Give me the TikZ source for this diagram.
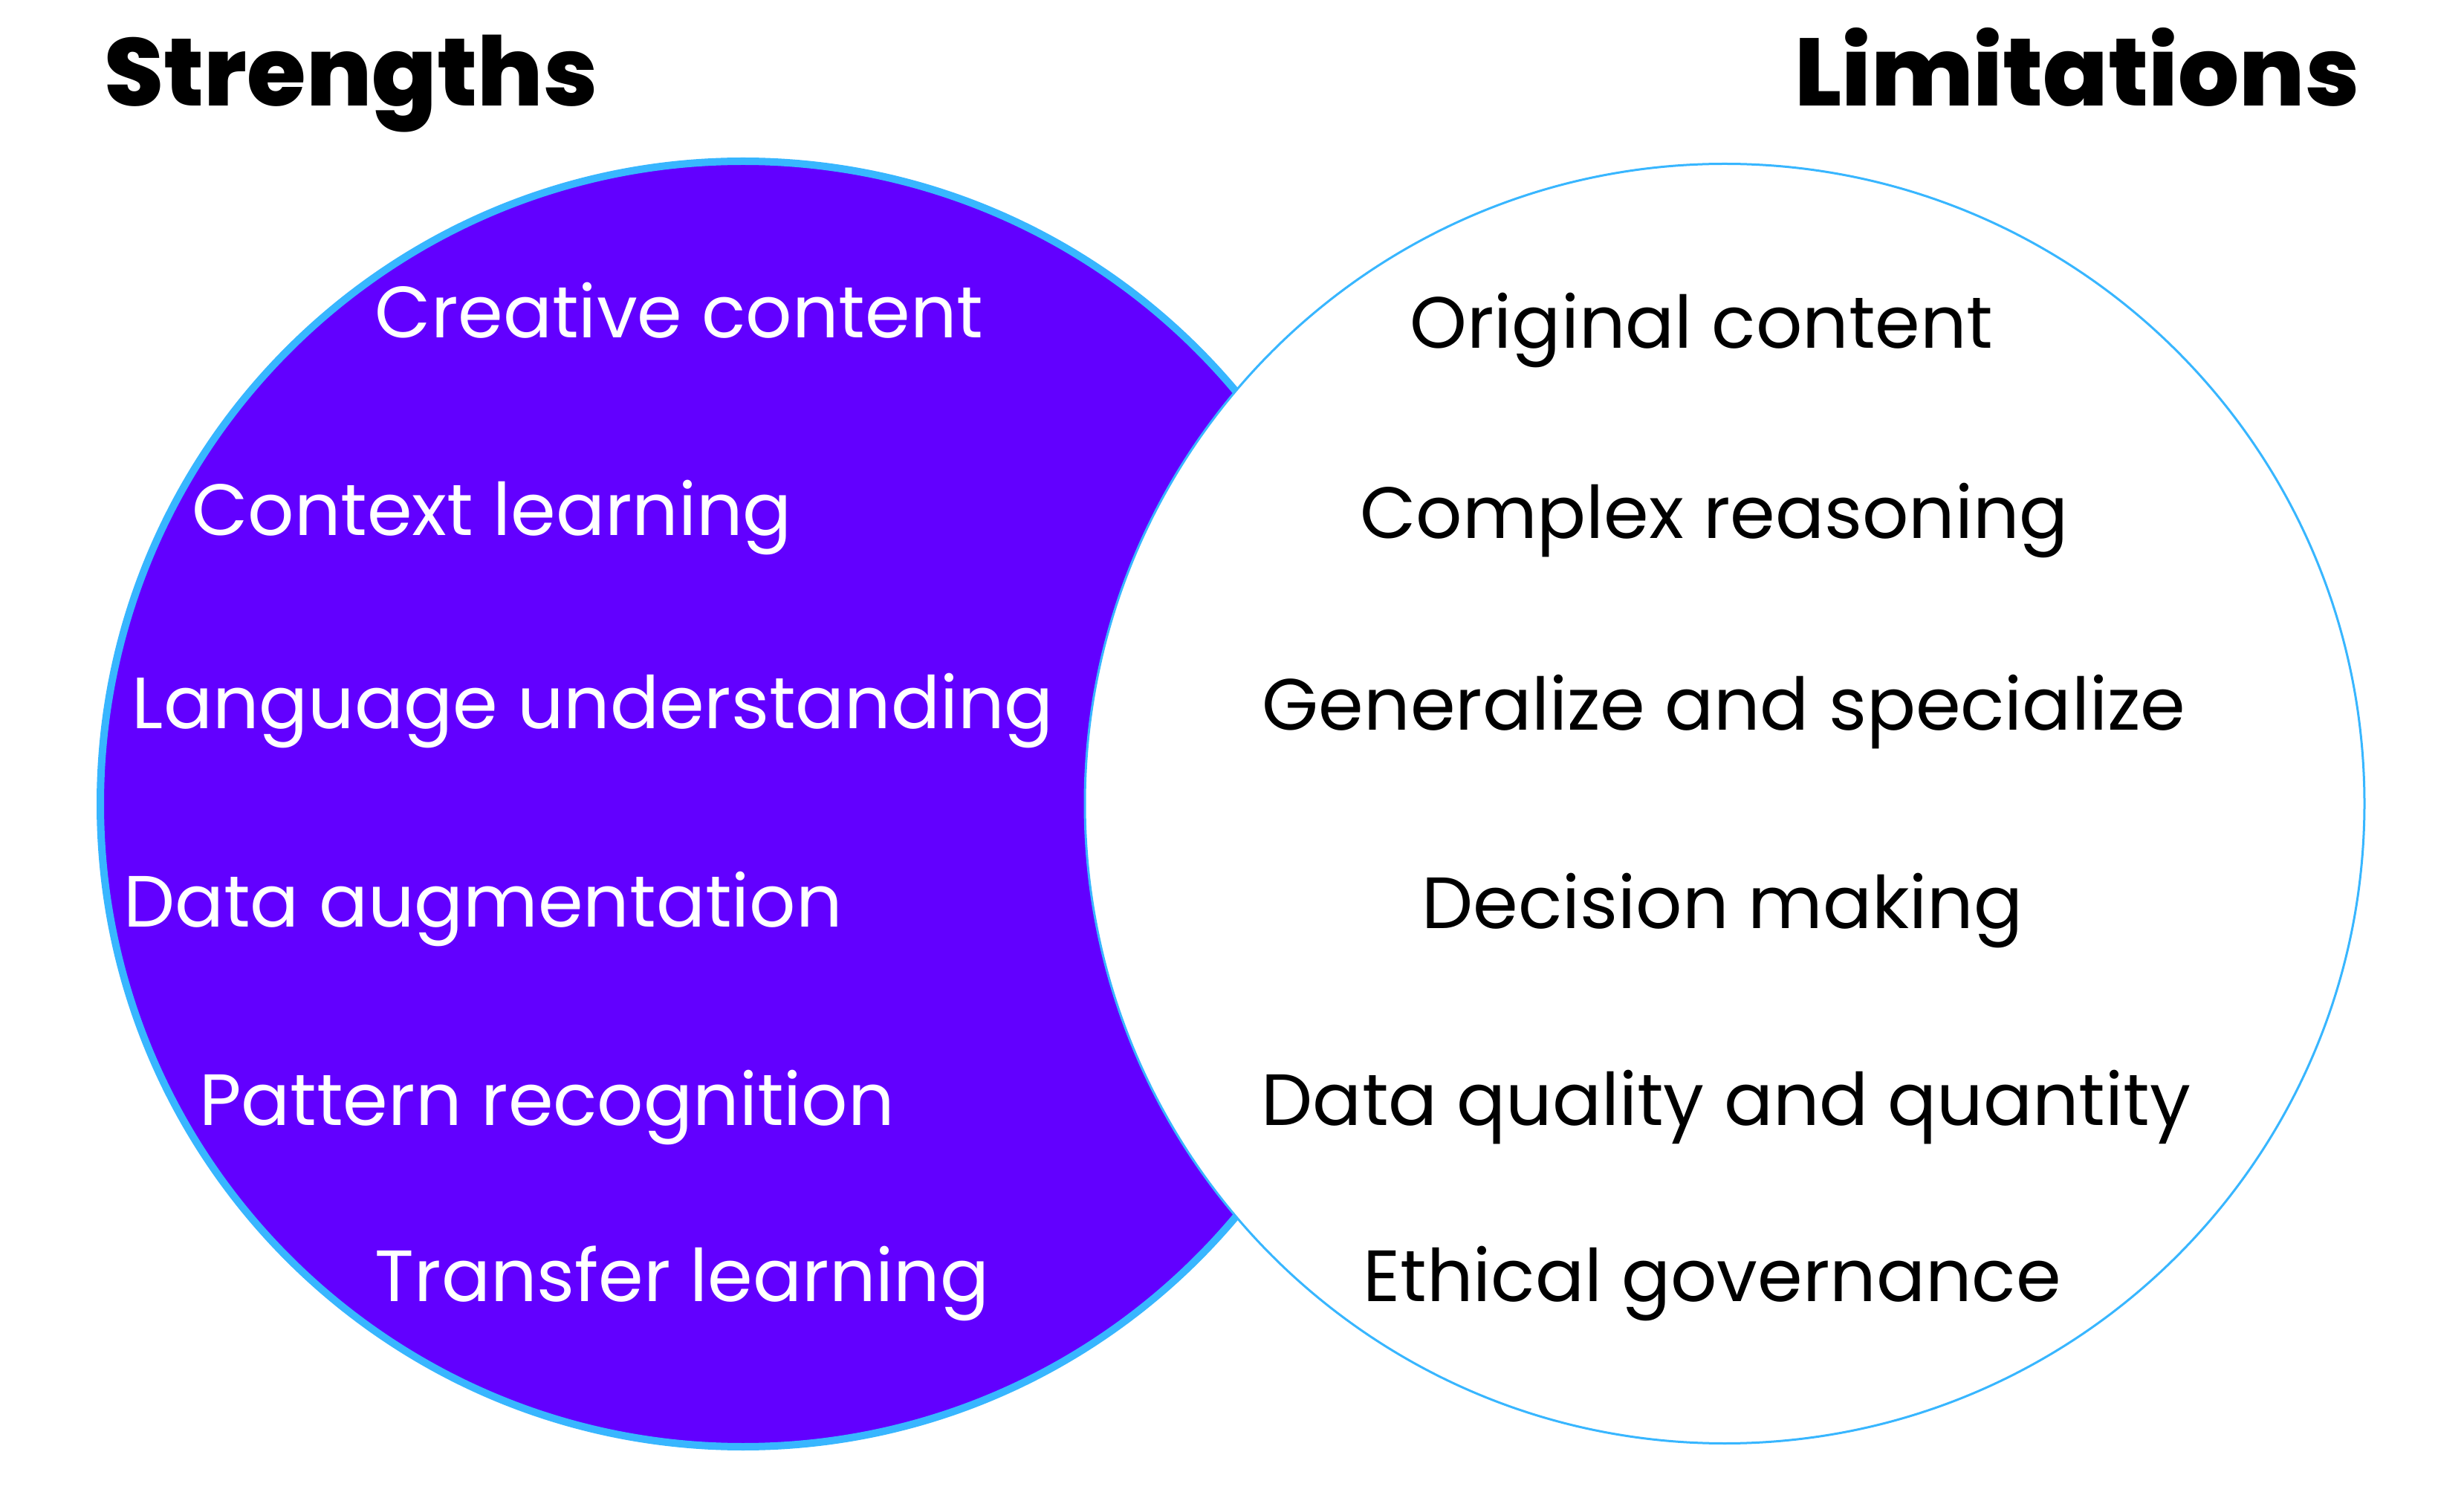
\documentclass[tikz,border=0pt]{standalone}
\usepackage{fontspec}
\setmainfont{Poppins}
\newfontfamily\titlefont{Poppins ExtraBold}
\usepackage{tikz}
\usetikzlibrary{positioning, calc}

\definecolor{violeta}{HTML}{6200FF}
\definecolor{celeste}{HTML}{38B6FF}

\begin{document}
\begin{tikzpicture}[
    every path/.style={thin}
]
    \tikzset{
        titulo/.style={font=\titlefont\fontsize{36.7}{42}\selectfont, text=black, inner sep=0pt},
        fuerte/.style={font=\fontsize{27.8}{32}\selectfont, text=white, anchor=base, inner sep=0pt},
        debil/.style={font=\fontsize{27.8}{32}\selectfont, text=black, anchor=base, inner sep=0pt}
    }
    \useasboundingbox (0,0) rectangle (33.16,-20.16);

    % Circulos
    \draw[violeta, fill=violeta, draw=celeste, line width=0.1cm] (10.00,-10.82) circle (8.65);
    \draw[fill=white, draw=celeste, line width=0.03cm] (23.21,-10.815) circle (8.61);

    % Titulos
    \node[titulo, anchor=base west] (fuertes) at (1.40,-1.43) {Strengths};
    \node[titulo, anchor=base east] (limites) at (31.76,-1.43) {Limitations};

    % Fortalezas
    \node[fuerte] (creativo) at (9.14,-4.55)  {Creative content};
    \node[fuerte] (contexto) at (6.62,-7.21)  {Context learning};
    \node[fuerte] (lenguaje) at (7.98,-9.81)  {Language understanding};
    \node[fuerte] (aumento)  at (6.50,-12.48) {Data augmentation};
    \node[fuerte] (patron)   at (7.36,-15.14) {Pattern recognition};
    \node[fuerte] (transfer) at (9.18,-17.51) {Transfer learning};

    % Limitaciones
    \node[debil] (original)  at (22.90,-4.69)  {Original content};
    \node[debil] (complejo)  at (23.07,-7.25)  {Complex reasoning};
    \node[debil] (general)   at (23.20,-9.83)  {Generalize and specialize};
    \node[debil] (decision)  at (23.18,-12.50) {Decision making};
    \node[debil] (calidad)   at (23.23,-15.14) {Data quality and quantity};
    \node[debil] (etica)     at (23.04,-17.51) {Ethical governance};
\end{tikzpicture}
\end{document}
